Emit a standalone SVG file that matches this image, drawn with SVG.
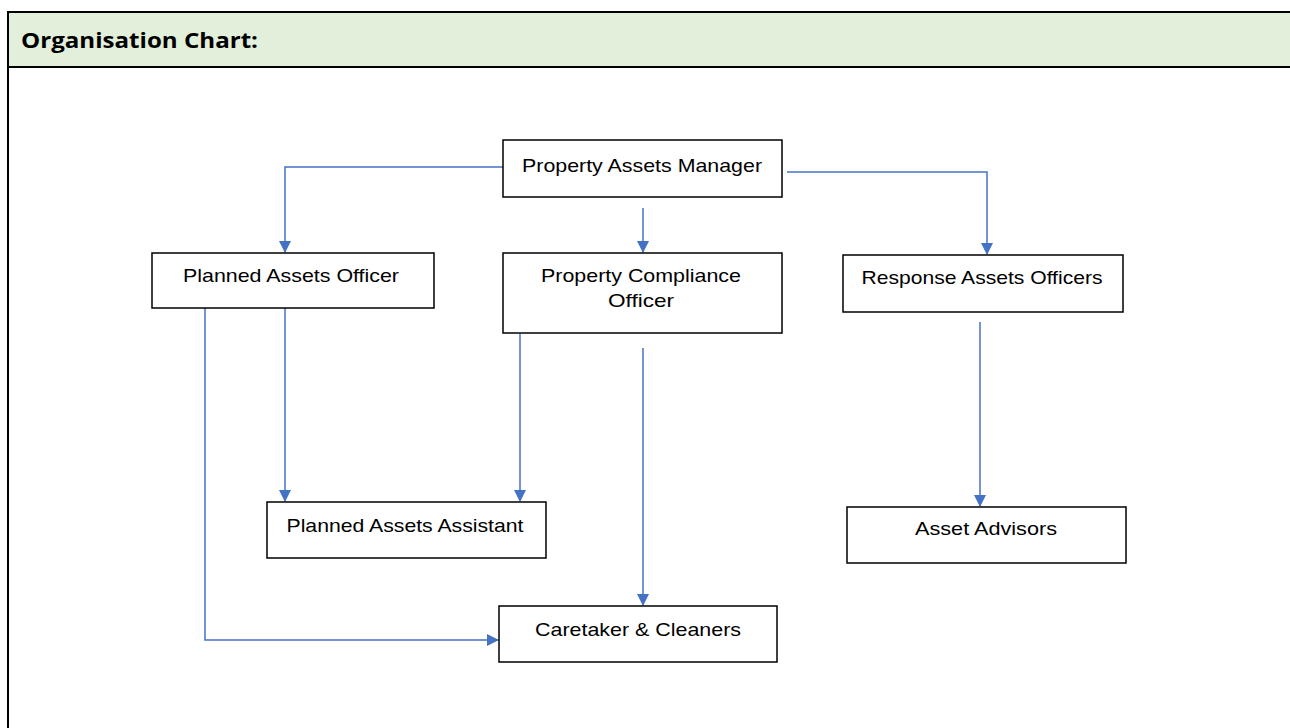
<svg xmlns="http://www.w3.org/2000/svg" width="1290" height="728" viewBox="0 0 1290 728">
<style>
.box{fill:#fff;stroke:#000;stroke-width:1.5}
.t{font-family:"Liberation Sans",Arial,sans-serif;font-size:19px;fill:#000;text-anchor:middle}
.c{fill:none;stroke:#4472C4;stroke-width:1.5}
</style>
<defs>
<marker id="ah" markerWidth="12" markerHeight="12" refX="11" refY="6" orient="auto" markerUnits="userSpaceOnUse">
<path d="M0,0 L12,6 L0,12 z" fill="#4472C4"/>
</marker>
</defs>
<rect x="0" y="0" width="1290" height="728" fill="#fff"/>
<g id="header">
<rect x="8" y="12" width="1290" height="55" fill="#E2EFDA"/>
<line x1="8" y1="12" x2="1290" y2="12" stroke="#000" stroke-width="2"/>
<line x1="8" y1="67" x2="1290" y2="67" stroke="#000" stroke-width="2"/>
<line x1="8" y1="11" x2="8" y2="728" stroke="#000" stroke-width="2"/>
<text x="21" y="48" font-family="'Open Sans','Liberation Sans',sans-serif" font-size="21" font-weight="bold" textLength="237" lengthAdjust="spacingAndGlyphs">Organisation Chart:</text>
</g>
<g id="connectors">
<path class="c" d="M503,167 H285 V252" marker-end="url(#ah)"/>
<path class="c" d="M787,172 H987 V254" marker-end="url(#ah)"/>
<path class="c" d="M643,208 V252" marker-end="url(#ah)"/>
<path class="c" d="M285,308 V501" marker-end="url(#ah)"/>
<path class="c" d="M205,308 V640 H498" marker-end="url(#ah)"/>
<path class="c" d="M520,334 V501" marker-end="url(#ah)"/>
<path class="c" d="M643,348 V605" marker-end="url(#ah)"/>
<path class="c" d="M980,322 V506" marker-end="url(#ah)"/>
</g>
<g id="pam">
<rect class="box" x="503" y="140" width="279" height="57"/>
<text class="t" x="642" y="172" textLength="240" lengthAdjust="spacingAndGlyphs">Property Assets Manager</text>
</g>
<g id="pao">
<rect class="box" x="152" y="253" width="282" height="55"/>
<text class="t" x="291" y="282" textLength="216" lengthAdjust="spacingAndGlyphs">Planned Assets Officer</text>
</g>
<g id="pco">
<rect class="box" x="503" y="253" width="279" height="80"/>
<text class="t" x="641" y="282" textLength="200" lengthAdjust="spacingAndGlyphs">Property Compliance</text>
<text class="t" x="641" y="307" textLength="66" lengthAdjust="spacingAndGlyphs">Officer</text>
</g>
<g id="rao">
<rect class="box" x="843" y="255" width="280" height="57"/>
<text class="t" x="982" y="284" textLength="241" lengthAdjust="spacingAndGlyphs">Response Assets Officers</text>
</g>
<g id="paa">
<rect class="box" x="267" y="502" width="279" height="56"/>
<text class="t" x="405" y="532" textLength="237" lengthAdjust="spacingAndGlyphs">Planned Assets Assistant</text>
</g>
<g id="aa">
<rect class="box" x="847" y="507" width="279" height="56"/>
<text class="t" x="986" y="535" textLength="142" lengthAdjust="spacingAndGlyphs">Asset Advisors</text>
</g>
<g id="cc">
<rect class="box" x="499" y="606" width="278" height="56"/>
<text class="t" x="638" y="636" textLength="206" lengthAdjust="spacingAndGlyphs">Caretaker &amp; Cleaners</text>
</g>
</svg>
